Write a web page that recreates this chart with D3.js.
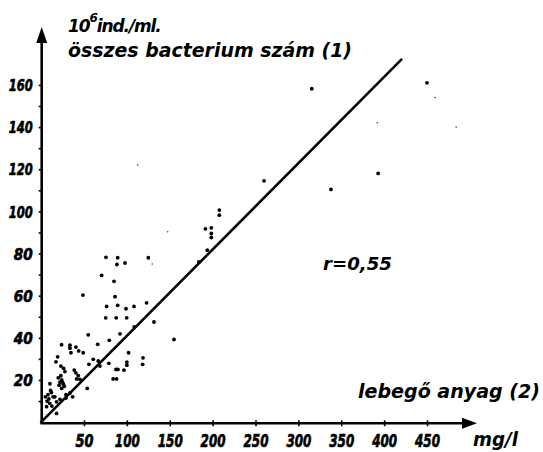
<!DOCTYPE html>
<html><head><meta charset="utf-8">
<script src="https://cdn.jsdelivr.net/npm/d3@7"></script>
<style>
html,body{margin:0;padding:0;background:#fff;}
svg{display:block;}
text{fill:#000;}
</style></head>
<body>
<svg id="c" width="543" height="452"></svg>
<script>
// ---- data ----
const xTicks = [50,100,150,200,250,300,350,400,450];
const yTicks = [10,20,30,40,50,60,70,80,90,100,110,120,130,140,150,160];
const yTickLabels = [20,40,60,80,100,120,140,160];
const pointsX = [315.6,450,260,393,338,207.8,207.8,191.6,198.5,198.5,198.5,193.8,75.6,89.3,88.4,97.8,125,70.6,85,48.8,86.2,76.4,89.3,99,108.3,123,75.3,87.6,99.8,131.6,92,79.5,155,108.6,55,23.9,33.6,33.6,40.6,43.8,49.1,34.8,66,102,118.8,118.4,100,100,79,60.8,66.6,68.6,55.8,19.3,17.3,23.1,26.2,27.8,38.6,40.6,43.3,45.3,41.4,87.3,89.6,84,88,96.6,53.8,10.3,20,22,24,21,24,26,23,8,12,14,9,33.7,36.8,29,29,7,10,12.6,6.4,18,18,22,16,184,25,27,11,5];
const pointsY = [158.2,161,114.5,118,110.4,100.6,98.2,91.7,92.2,89.5,87.6,81.6,78.2,78,74.8,75.5,78,69.6,66.8,60.3,59.5,54.9,55.4,53.8,54.9,56.6,49.5,49.5,49.5,47.5,41.9,38.8,39.2,45.2,41.4,36.7,36.5,35.1,35.6,33.8,32.9,32.9,36.9,32.9,30.5,27.4,28.5,27,27.9,29.8,29,26.6,27.4,31,28.6,26.6,25.5,24,24.7,23.4,22.1,20.3,20.5,25,25,20.5,20.5,24.7,16,18.2,21,19,20,17.5,16,18,22,13,14,12,11,13.8,12,13,11.4,10,8.9,7.6,7.3,9.6,4.1,10.8,12,76,19,17,15,12];
const faintX = [459.5,392,484,112.6,147.6,129.6];
const faintY = [154,142,140,122,90.3,75];
const regX = [0,420];
const regY = [0,172];
const r_value = "r=0,55";

// ---- chart ----
const svg = d3.select("#c");
const x = d3.scaleLinear().domain([0,500]).range([41.1,469.9]);
const y = d3.scaleLinear().domain([0,180]).range([422.1,42.8]);
const axX = 41.7, axY = 423.3;

svg.append("line").attr("x1",axX).attr("y1",axY).attr("x2",axX).attr("y2",36)
  .attr("stroke","#000").attr("stroke-width",2.6);
svg.append("path").attr("d",`M${axX},27 L${axX-5.5},43 L${axX+5.5},43 Z`).attr("fill","#000");
svg.append("line").attr("x1",axX-1.3).attr("y1",axY).attr("x2",468).attr("y2",axY)
  .attr("stroke","#000").attr("stroke-width",2.6);
svg.append("path").attr("d",`M477,${axY} L462,${axY-5.5} L462,${axY+5.5} Z`).attr("fill","#000");

const ya = svg.append("g").attr("transform",`translate(${axX},0)`)
  .call(d3.axisLeft(y).tickValues(yTicks).tickSize(3).tickPadding(6)
    .tickFormat(d => yTickLabels.includes(d) ? d : ""));
ya.select(".domain").remove();
ya.selectAll("line").attr("stroke","#000").attr("stroke-width",1.6);
ya.selectAll("text")
  .attr("font-family","DejaVu Sans Condensed, DejaVu Sans")
  .attr("font-weight","bold").attr("font-style","italic")
  .attr("font-size",16).attr("dy","0.36em")
  .attr("stroke","#000").attr("stroke-width",0.6)
  .attr("textLength", d => String(d).length===3 ? 24 : 19)
  .attr("lengthAdjust","spacingAndGlyphs");

const xa = svg.append("g").attr("transform",`translate(0,${axY})`)
  .call(d3.axisBottom(x).tickValues(xTicks).tickSize(3).tickPadding(9));
xa.select(".domain").remove();
xa.selectAll("line").attr("stroke","#000").attr("stroke-width",1.6).attr("y1",-3);
xa.selectAll("text")
  .attr("font-family","DejaVu Sans Condensed, DejaVu Sans")
  .attr("font-weight","bold").attr("font-style","italic")
  .attr("font-size",17).attr("dy","0.71em")
  .attr("stroke","#000").attr("stroke-width",0.6)
  .attr("textLength", d => String(d).length===3 ? 25 : 18)
  .attr("lengthAdjust","spacingAndGlyphs");

svg.append("line")
  .attr("x1",x(regX[0])).attr("y1",y(regY[0]))
  .attr("x2",x(regX[1])).attr("y2",y(regY[1]))
  .attr("stroke","#000").attr("stroke-width",2.6).attr("stroke-linecap","round");

svg.append("g").selectAll("circle").data(pointsX.map((v,i)=>[v,pointsY[i]])).join("circle")
  .attr("cx",d=>x(d[0])).attr("cy",d=>y(d[1])).attr("r",1.9).attr("fill","#000");
svg.append("g").selectAll("circle").data(faintX.map((v,i)=>[v,faintY[i]])).join("circle")
  .attr("cx",d=>x(d[0])).attr("cy",d=>y(d[1])).attr("r",0.8).attr("fill","#444");

const lab = (t,xx,yy,fs,len) => svg.append("text").attr("x",xx).attr("y",yy)
  .attr("font-family","DejaVu Sans").attr("font-style","italic").attr("font-weight","bold")
  .attr("font-size",fs).attr("textLength",len).attr("lengthAdjust","spacingAndGlyphs").text(t);

const t1 = svg.append("text").attr("x",68).attr("y",32)
  .attr("font-family","DejaVu Sans").attr("font-style","italic").attr("font-weight","bold")
  .attr("font-size",17).attr("letter-spacing",-1.1);
t1.append("tspan").text("10");
t1.append("tspan").attr("font-size",12).attr("dy",-10).text("6");
t1.append("tspan").attr("dy",10).text("ind./ml.");
lab("összes bacterium szám (1)",68,57,19,284);
lab("lebegő anyag (2)",358,398,19,182);
lab("mg/l",473,446,19,45);
lab(r_value,323,270,17,69);
</script>
</body></html>
